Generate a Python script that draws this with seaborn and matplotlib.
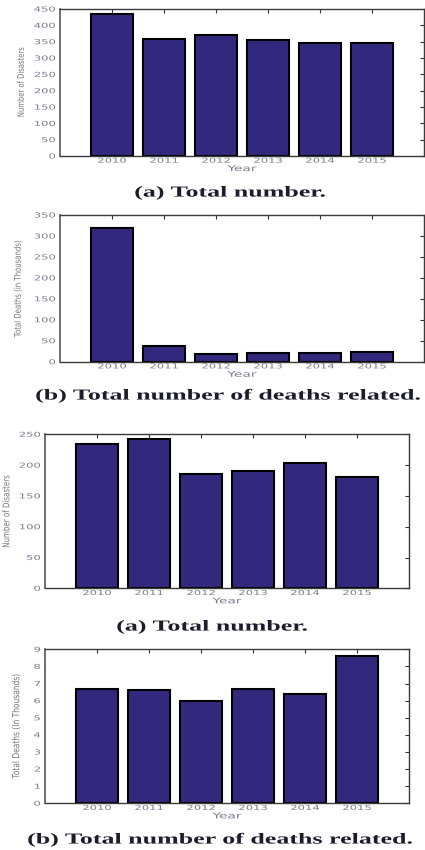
import matplotlib
matplotlib.use("Agg")
import matplotlib.pyplot as plt
import seaborn as sns
from matplotlib.patheffects import AbstractPathEffect
from matplotlib.transforms import Affine2D

# Yearly figures for the two groups of charts
years = ["2010", "2011", "2012", "2013", "2014", "2015"]
disasters_a = [434, 359, 369, 354, 347, 346]
deaths_a = [320, 37.5, 18, 21, 20, 22]
disasters_b = [234, 242, 186, 190, 204, 181]
deaths_b = [6.7, 6.6, 6.0, 6.7, 6.4, 8.6]

yticks_disasters_a = list(range(0, 451, 50))
yticks_deaths_a = list(range(0, 351, 50))
yticks_disasters_b = list(range(0, 251, 50))
yticks_deaths_b = list(range(0, 10))

captions = ["(a) Total number.",
            "(b) Total number of deaths related.",
            "(a) Total number.",
            "(b) Total number of deaths related."]
ylabels = ["Number of Disasters",
           "Total Deaths (in Thousands)",
           "Number of Disasters",
           "Total Deaths (In Thousands)"]

sns.set_theme(style="white")
plt.rcParams["font.family"] = ["DejaVu Sans"]

BAR = "#32297f"
TICK_TEXT = "#7b7d92"
LABEL_TEXT = "#77727e"
W, H = 425, 850


class Widen(AbstractPathEffect):
    """Stretch a text's glyphs horizontally (in screen space) around an anchor."""

    def __init__(self, factor, anchor="center"):
        super().__init__()
        self.factor = factor
        self.anchor = anchor

    def draw_path(self, renderer, gc, tpath, affine, rgbFace=None):
        ext = tpath.get_extents(affine)
        if self.anchor == "right":
            ax_ = ext.x1
        elif self.anchor == "left":
            ax_ = ext.x0
        else:
            ax_ = 0.5 * (ext.x0 + ext.x1)
        stretch = Affine2D().translate(-ax_, 0).scale(self.factor, 1).translate(ax_, 0)
        renderer.draw_path(gc, tpath, affine + stretch, rgbFace)


fig = plt.figure(figsize=(W / 100, H / 100), dpi=100)


def px_rect(left, top, right, bottom):
    return [left / W, 1 - bottom / H, (right - left) / W, (bottom - top) / H]


panels = [
    # axes rect, values, y ticks, caption centre (px), ylabel right edge offset (px), ylabel size
    (px_rect(60, 9, 424, 156), disasters_a, yticks_disasters_a, (230, 193), -36, 4.9),
    (px_rect(60, 215, 424, 361.7), deaths_a, yticks_deaths_a, (228, 396), -38.5, 5.0),
    (px_rect(45, 434.3, 409, 588.3), disasters_b, yticks_disasters_b, (212, 627), -35.5, 5.1),
    (px_rect(45, 649.3, 409, 803.3), deaths_b, yticks_deaths_b, (220, 840), -25, 5.4),
]

for i, (rect, values, yticks, cap_xy, ylab_off, ylab_size) in enumerate(panels):
    ax = fig.add_axes(rect)
    sns.barplot(x=years, y=values, color=BAR, saturation=1, width=0.8,
                edgecolor="black", linewidth=1.5, ax=ax)
    ax.set_xlim(-1, 6)
    ax.set_ylim(yticks[0], yticks[-1])
    ax.set_yticks(yticks)
    ax.tick_params(direction="in", top=True, right=True, length=3, width=0.8,
                   color="#333333", labelsize=4.9, labelcolor=TICK_TEXT)
    ax.tick_params(axis="x", pad=1.2)
    ax.tick_params(axis="y", pad=3.2)
    for tk in ax.xaxis.get_major_ticks():
        tk.label1.set_path_effects([Widen(1.7, "center")])
    for tk in ax.yaxis.get_major_ticks():
        tk.label1.set_path_effects([Widen(1.7, "right")])
    for name, s in ax.spines.items():
        s.set_color("#555555" if name == "left" else "#3a3a3a")
        s.set_linewidth(1.2 if name == "left" else 1.0)
    ax.set_xlabel("Year", fontsize=5.8, color=TICK_TEXT, labelpad=0.3)
    ax.xaxis.label.set_path_effects([Widen(1.7)])
    ax.set_ylabel(ylabels[i], fontsize=ylab_size, color=LABEL_TEXT)
    ax.yaxis.label.set_path_effects([Widen(1.3)])
    ax.yaxis.set_label_coords(ylab_off / (rect[2] * W), 0.5)
    fig.text(cap_xy[0] / W, 1 - cap_xy[1] / H, captions[i], ha="center",
             va="center", fontsize=11, family="Liberation Serif",
             weight="bold", color="#1c1c2c",
             path_effects=[Widen(1.7)])

fig.savefig("out.png", dpi=100)
